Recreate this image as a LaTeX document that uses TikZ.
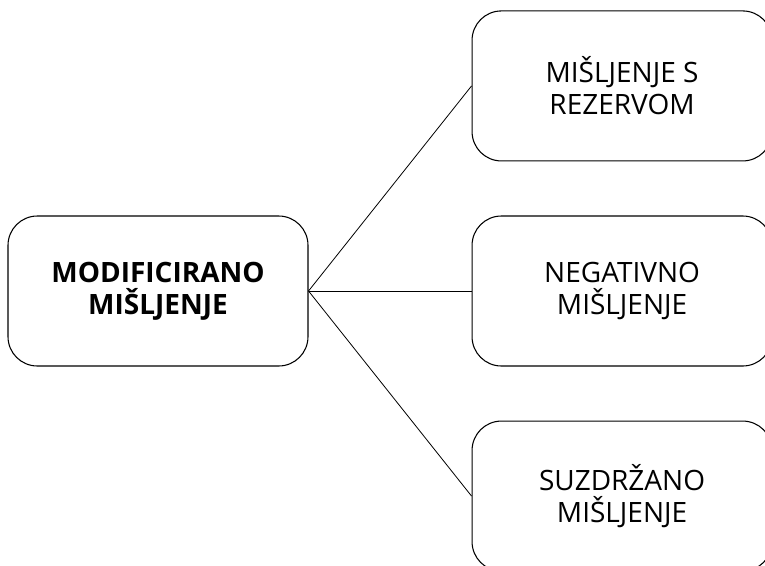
\documentclass[tikz,border=0pt]{standalone}
\usepackage{fontspec}
\setmainfont{Open Sans}
\usetikzlibrary{positioning}

\begin{document}
\begin{tikzpicture}[
    x=0.75pt,
    y=-0.75pt,
    node distance=40.5pt,
    every node/.style={font=\fontsize{21}{24}\selectfont},
    box/.style={
        draw,
        line width=0.8pt,
        rounded corners=22pt,
        minimum width=225pt,
        minimum height=112.5pt,
        align=center
    },
    link/.style={
        line width=0.6pt
    }
]

\useasboundingbox (0,0) rectangle (765,565);

\node[
    box,
    font=\fontsize{21}{24}\selectfont\bfseries
] (modified) at (158,291)
{MODIFICIRANO\\MIŠLJENJE};

\node[
    box,
    right=122.25pt of modified
] (negative)
{NEGATIVNO\\MIŠLJENJE};

\node[
    box,
    above=of negative
] (reserve)
{MIŠLJENJE S\\REZERVOM};

\node[
    box,
    below=of negative
] (withheld)
{SUZDRŽANO\\MIŠLJENJE};

\draw[link] (modified.east) -- (reserve.west);
\draw[link] (modified.east) -- (negative.west);
\draw[link] (modified.east) -- (withheld.west);

\end{tikzpicture}
\end{document}
